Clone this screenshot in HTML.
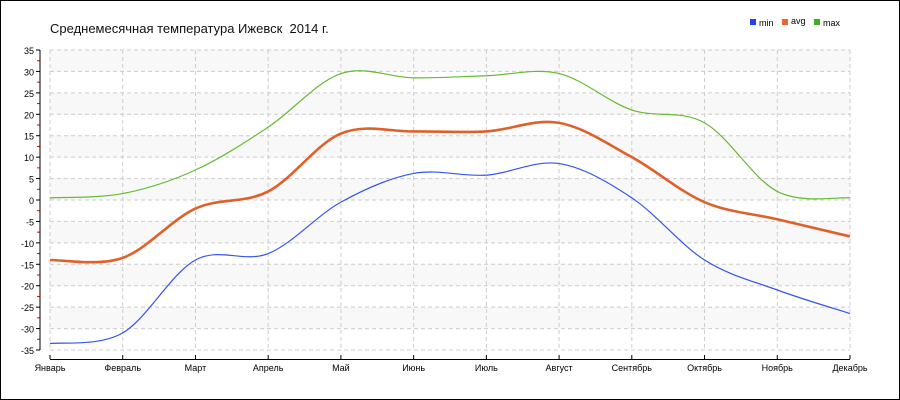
<!DOCTYPE html>
<html><head><meta charset="utf-8"><style>
html,body{margin:0;padding:0;background:#fff}
svg{display:block;font-family:"Liberation Sans",sans-serif}
</style></head><body>
<svg id="s" width="900" height="400" xmlns="http://www.w3.org/2000/svg">
<rect x="0.5" y="0.5" width="899" height="399" fill="#fff" stroke="#000"/>
<text x="50" y="33" font-size="13" fill="#111">Среднемесячная температура Ижевск&#160; 2014 г.</text>
<rect x="750" y="19" width="6" height="6" fill="#2244ee"/><text x="759" y="26" font-size="9">min</text>
<rect x="782" y="19" width="6" height="6" fill="#e8662f"/><text x="791" y="24" font-size="9">avg</text>
<rect x="814" y="19" width="6" height="6" fill="#44aa22"/><text x="823" y="26" font-size="9">max</text>
<g id="g"></g>
</svg>
<script>
var g=document.getElementById('g'),h='';
function Y(v){return 200-v*300/70}
function X(i){return 50+i*800/11}
for(var v=35;v>-35;v-=10){h+='<rect x="50" y="'+Y(v)+'" width="800" height="'+(300/14)+'" fill="#f8f8f8"/>';}
for(var v=35;v>=-35;v-=5){var y=Y(v);h+='<line x1="50" x2="850" y1="'+y+'" y2="'+y+'" stroke="#ccc" stroke-dasharray="4,3"/>';
h+='<line x1="36" x2="40" y1="'+y+'" y2="'+y+'" stroke="#000"/>';
h+='<text x="34" y="'+(y+4)+'" font-size="9" text-anchor="end">'+v+'</text>';
if(v>-35)h+='<line x1="37" x2="40" y1="'+(y+300/28)+'" y2="'+(y+300/28)+'" stroke="#e00"/>';}
var m=['Январь','Февраль','Март','Апрель','Май','Июнь','Июль','Август','Сентябрь','Октябрь','Ноябрь','Декабрь'];
for(var i=0;i<12;i++){var x=X(i);h+='<line x1="'+x+'" x2="'+x+'" y1="50" y2="350" stroke="#ccc" stroke-dasharray="4,3"/>';
h+='<line x1="'+x+'" x2="'+x+'" y1="355" y2="359" stroke="#000"/>';
h+='<text x="'+x+'" y="371" font-size="9" text-anchor="middle">'+m[i]+'</text>';}
h+='<line x1="40" x2="40" y1="50" y2="350" stroke="#000"/><line x1="50" x2="850" y1="359.5" y2="359.5" stroke="#000"/>';
function path(d){var p=d.map(function(v,i){return[X(i),Y(v)]});var s='M'+p[0];
for(var i=0;i<p.length-1;i++){var p0=p[i-1]||p[i],p1=p[i],p2=p[i+1],p3=p[i+2]||p2;
s+=' C'+(p1[0]+(p2[0]-p0[0])/6)+','+(p1[1]+(p2[1]-p0[1])/6)+' '+(p2[0]-(p3[0]-p1[0])/6)+','+(p2[1]-(p3[1]-p1[1])/6)+' '+p2;}return s}
h+='<path d="'+path([0.5,1.5,7,17,29.5,28.5,29,29.5,21,18,2,0.5])+'" fill="none" stroke="#66bb33" stroke-width="1.2"/>';
h+='<path d="'+path([-14,-13.5,-2,2,15.5,16,16,18,10,-0.5,-4.5,-8.5])+'" fill="none" stroke="#e0602a" stroke-width="2.6"/>';
h+='<path d="'+path([-33.5,-31,-14,-12.5,-0.5,6.2,5.8,8.5,0.5,-14,-21,-26.5])+'" fill="none" stroke="#3355ee" stroke-width="1.2"/>';
g.innerHTML=h;
</script>
</body></html>
